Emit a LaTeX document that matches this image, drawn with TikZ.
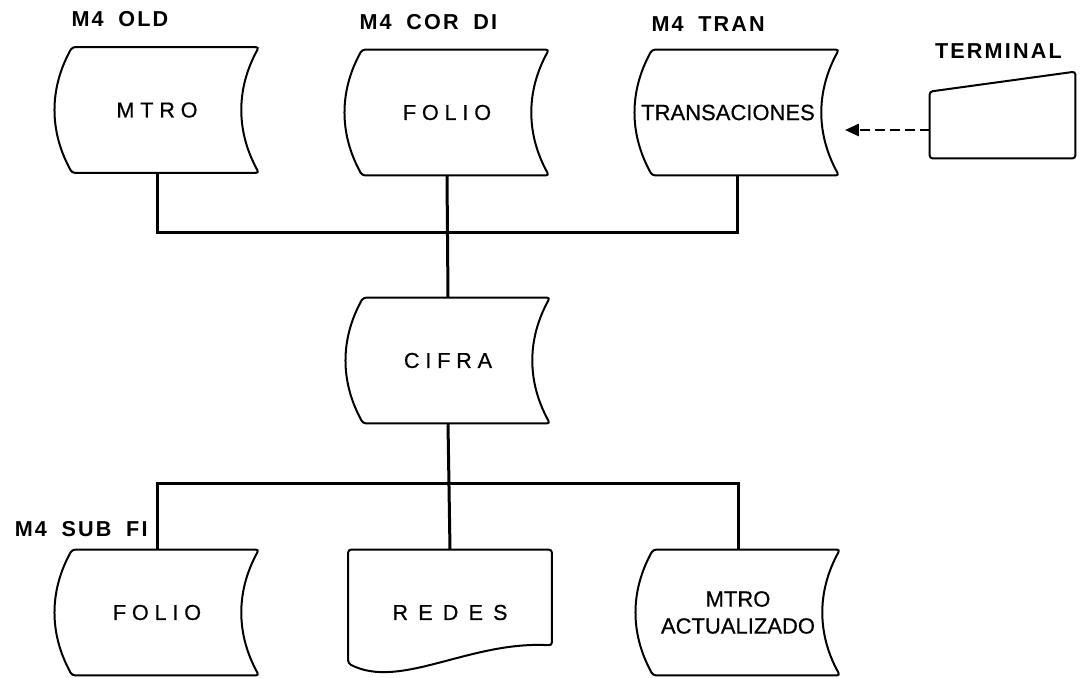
\documentclass[tikz,border=0pt]{standalone}
\usepackage{fontspec}
\setmainfont{Liberation Sans}
\newfontfamily\bodyfont[FakeBold=0.6]{Liberation Sans}
\newfontfamily\spacedfont[LetterSpace=27,FakeBold=0.6]{Liberation Sans}
\newfontfamily\widefont[LetterSpace=47,FakeBold=0.6]{Liberation Sans}
\newfontfamily\tagfont[LetterSpace=10,WordSpace=1.8]{Liberation Sans}
\usepackage{tikz}
\usetikzlibrary{calc,arrows.meta,positioning}

\tikzset{
  store/.style={minimum width=101.5pt, minimum height=62.5pt, inner sep=0pt, align=center},
  outline/.style={line width=1pt, rounded corners=1.5pt},
  wire/.style={line width=1.5pt},
  tag/.style={inner sep=0pt, font=\tagfont\bfseries\fontsize{10.8}{12}\selectfont},
  spaced/.style={font=\spacedfont\fontsize{10.8}{12}\selectfont},
  plain/.style={font=\bodyfont\fontsize{11}{13.5}\selectfont}
}

\begin{document}
\begin{tikzpicture}[x=0.5pt,y=-0.5pt]
    \useasboundingbox (0,0) rectangle (1082,677);

    % input files
    \node[store, spaced] (mtro)   at (157,110)   {MTRO};
    \node[store, spaced] (folioa) at (447,112.5) {FOLIO};
    \node[store, plain]  (tran)   at (737,112.5) {\kern-9pt TRANSACIONES};

    % process file and outputs
    \node[store, spaced] (cifra)   at (448,360.5) {CIFRA};
    \node[store, spaced] (foliob)  at (157,612.5) {FOLIO};
    \node[store, font=\widefont\fontsize{10.8}{12}\selectfont] (redes) at (450,612.5) {REDES};
    \node[store, plain]  (mtroact) at (738,612.5) {MTRO\\ACTUALIZADO};

    % terminal
    \node[minimum width=72.5pt, minimum height=43pt, inner sep=0pt] (terminal) at (1002.5,115) {};

    % stored data outlines
    \foreach \n in {mtro,folioa,tran,cifra,foliob,mtroact}
        \draw[outline] ([xshift=8.5pt]\n.north west)
            .. controls +(-11.5pt,-20.8pt) and +(-11.5pt,20.8pt) .. ([xshift=8.5pt]\n.south west)
            -- (\n.south east)
            .. controls +(-11.5pt,20.8pt) and +(-11.5pt,-20.8pt) .. (\n.north east)
            -- cycle;

    % document outline
    \draw[outline] (redes.north west) -- ([yshift=6pt]redes.south west)
        .. controls +(26pt,-13.5pt) and +(-41pt,2.5pt) .. ([yshift=15pt]redes.south east)
        -- (redes.north east) -- cycle;

    % terminal outline
    \draw[outline] ([yshift=-10pt]terminal.north west) -- (terminal.north east)
        -- (terminal.south east) -- (terminal.south west) -- cycle;

    % file names
    \node[tag, above right=10pt and 8pt of mtro.north west]   (lold)  {M4 OLD};
    \node[tag, above right=10pt and 7pt of folioa.north west] (lcor)  {M4 COR DI};
    \node[tag, above right=9pt and 8pt of tran.north west]    (ltran) {M4 TRAN};
    \node[tag, above right=6.5pt and 2.5pt of terminal.north west] (lterm) {TERMINAL};
    \node[tag, above left=6.5pt and 4.5pt of foliob.north]    (lsub)  {M4 SUB FI};

    % connections
    \coordinate (topbus) at (447,232);
    \coordinate (lowbus) at (448,483);
    \draw[wire] (mtro.south) |- (topbus) -| (tran.south);
    \draw[wire] (folioa.south) -- (cifra.north);
    \draw[wire] (cifra.south) -- (redes.north);
    \draw[wire] (foliob.north) |- (lowbus) -| (mtroact.north);

    % terminal input
    \draw[line width=1.4pt, dash pattern=on 5pt off 2.5pt, shorten >=3pt,
        -{Triangle[length=7pt,width=6pt]}]
        ([yshift=-7.5pt]terminal.west) -- ([yshift=-7.5pt]terminal.west -| tran.east);
\end{tikzpicture}
\end{document}
